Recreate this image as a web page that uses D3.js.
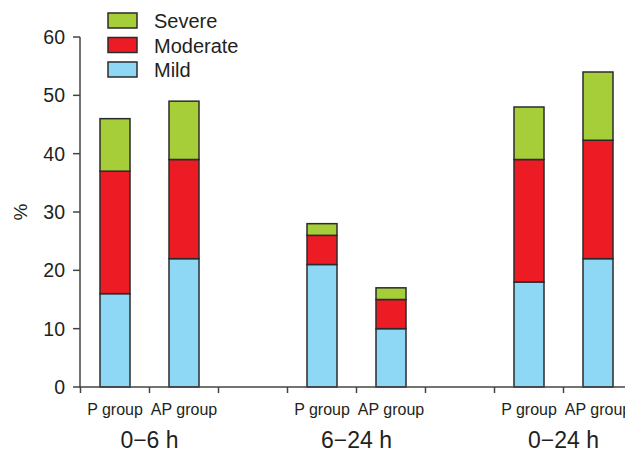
<!DOCTYPE html>
<html>
<head>
<meta charset="utf-8">
<script src="https://cdn.jsdelivr.net/npm/d3@7"></script>
<style>
  body { margin: 0; background: #fff; }
  svg text { font-family: "Liberation Sans", Arial, sans-serif; fill: #231f20; }
</style>
</head>
<body>
<svg id="chart" width="625" height="450"></svg>
<script>
// Stacked bars: pain severity by group and period
var periods = ["0\u22126 h", "6\u221224 h", "0\u221224 h"];
var groups = ["P group", "AP group"];
var severities = ["Mild", "Moderate", "Severe"];

// one entry per bar, period order then group order
var mild     = [16, 22, 21, 10, 18, 22];
var moderate = [21, 17, 5, 5, 21, 20.3];
var severe   = [9, 10, 2, 2, 9, 11.7];

var yTicks = [0, 10, 20, 30, 40, 50, 60];

var colors = { Mild: "#8ed8f6", Moderate: "#ed1c24", Severe: "#a6ce39" };

var svg = d3.select("#chart");

// slots: two bars per period, then an empty slot
var slots = [];
periods.forEach(function (p, i) {
    groups.forEach(function (g) { slots.push(p + "|" + g); });
    slots.push("gap" + i);
});

var x = d3.scaleBand().domain(slots).range([80.5, 80.5 + 69 * slots.length]);
var y = d3.scaleLinear().domain([0, 60]).range([387, 37]);
var barWidth = 30;
var cx = function (key) { return x(key) + x.bandwidth() / 2; };

// build stacked data
var rows = [];
var k = 0;
periods.forEach(function (p) {
    groups.forEach(function (g) {
        rows.push({ key: p + "|" + g, Mild: mild[k], Moderate: moderate[k], Severe: severe[k] });
        k++;
    });
});
var stack = d3.stack().keys(severities)(rows);

svg.append("g").selectAll("g")
    .data(stack)
    .enter()
    .append("g")
    .attr("fill", function (d) { return colors[d.key]; })
    .selectAll("rect")
    .data(function (d) { return d; })
    .enter()
    .append("rect")
    .attr("x", function (d) { return cx(d.data.key) - barWidth / 2; })
    .attr("y", function (d) { return y(d[1]); })
    .attr("width", barWidth)
    .attr("height", function (d) { return y(d[0]) - y(d[1]); })
    .attr("stroke", "#2b2b2b")
    .attr("stroke-width", 1.5);

// y axis
var yAxis = svg.append("g");
yAxis.append("line")
    .attr("x1", 80).attr("x2", 80)
    .attr("y1", y(60)).attr("y2", y(0))
    .attr("stroke", "#444").attr("stroke-width", 1.5);
yAxis.selectAll(".tick")
    .data(yTicks)
    .enter()
    .append("line")
    .attr("x1", 73).attr("x2", 80)
    .attr("y1", function (d) { return y(d); })
    .attr("y2", function (d) { return y(d); })
    .attr("stroke", "#444").attr("stroke-width", 1.5);
yAxis.selectAll(".label")
    .data(yTicks)
    .enter()
    .append("text")
    .attr("x", 65)
    .attr("y", function (d) { return y(d) + 7; })
    .attr("text-anchor", "end")
    .style("font-size", "19.5px")
    .text(function (d) { return d; });

svg.append("text")
    .attr("transform", "translate(27,212) rotate(-90)")
    .attr("text-anchor", "middle")
    .style("font-size", "19px")
    .text("%");

// x axis
var xAxis = svg.append("g");
xAxis.append("line")
    .attr("x1", 79).attr("x2", 625)
    .attr("y1", y(0)).attr("y2", y(0))
    .attr("stroke", "#444").attr("stroke-width", 1.5);
xAxis.selectAll(".tick")
    .data(slots)
    .enter()
    .append("line")
    .attr("x1", function (d) { return x(d); })
    .attr("x2", function (d) { return x(d); })
    .attr("y1", y(0)).attr("y2", y(0) + 6)
    .attr("stroke", "#444").attr("stroke-width", 1.5);
xAxis.selectAll(".group")
    .data(rows)
    .enter()
    .append("text")
    .attr("x", function (d) { return cx(d.key); })
    .attr("y", 415)
    .attr("text-anchor", "middle")
    .style("font-size", "16px")
    .text(function (d) { return d.key.split("|")[1]; });
xAxis.selectAll(".period")
    .data(periods)
    .enter()
    .append("text")
    .attr("x", function (d) { return x(d + "|" + groups[1]); })
    .attr("y", 448)
    .attr("text-anchor", "middle")
    .style("font-size", "23px")
    .text(function (d) { return d; });

// legend
var legend = svg.append("g").selectAll("g")
    .data(severities.slice().reverse())
    .enter()
    .append("g")
    .attr("transform", function (d, i) { return "translate(108," + (13 + i * 24.5) + ")"; });
legend.append("rect")
    .attr("width", 29).attr("height", 15)
    .attr("fill", function (d) { return colors[d]; })
    .attr("stroke", "#2b2b2b").attr("stroke-width", 1.5);
legend.append("text")
    .attr("x", 46).attr("y", 15)
    .style("font-size", "20px")
    .text(function (d) { return d; });
</script>
</body>
</html>
